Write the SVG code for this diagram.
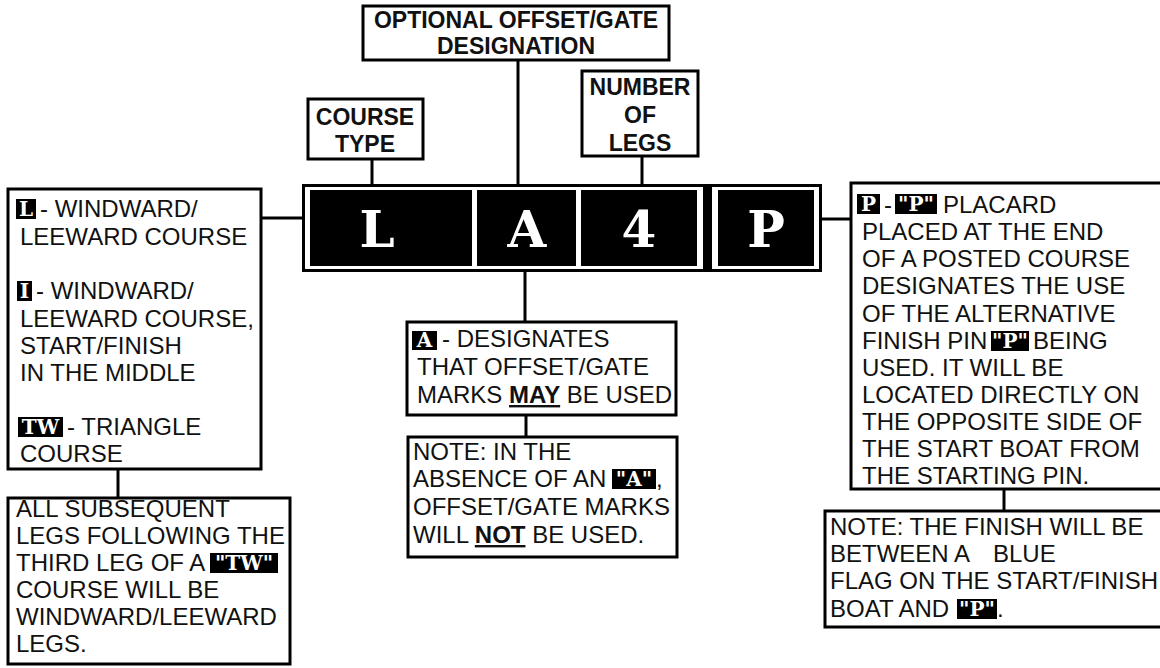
<svg xmlns="http://www.w3.org/2000/svg" width="1160" height="668" viewBox="0 0 1160 668">
<style>
.box{fill:#fff;stroke:#000;stroke-width:3}
.con{stroke:#000;stroke-width:3;fill:none}
.t{font-family:"Liberation Sans",Arial,sans-serif;font-size:24px;fill:#111}
.hb{font-family:"Liberation Sans",Arial,sans-serif;font-size:23px;font-weight:bold;fill:#111;text-anchor:middle}
.b{font-weight:bold;text-decoration:underline}
.big{font-family:"DejaVu Serif",serif;font-weight:bold;font-size:50px;fill:#fff;text-anchor:middle}
.bt{font-family:"DejaVu Serif",serif;font-weight:bold;font-size:20px;fill:#fff;text-anchor:middle}
.bg{fill:#000}
</style>
<rect width="1160" height="668" fill="#fff"/>
<g id="connectors">
<line class="con" x1="518" y1="60" x2="518" y2="184"/>
<line class="con" x1="372" y1="159" x2="372" y2="184"/>
<line class="con" x1="642" y1="156" x2="642" y2="184"/>
<line class="con" x1="261" y1="218" x2="302" y2="218"/>
<line class="con" x1="822" y1="219" x2="851" y2="219"/>
<line class="con" x1="118" y1="469" x2="118" y2="498"/>
<line class="con" x1="525" y1="272" x2="525" y2="322"/>
<line class="con" x1="526" y1="415" x2="526" y2="437"/>
<line class="con" x1="1004" y1="489" x2="1004" y2="511"/>
</g>
<g id="gate">
<rect class="box" x="363" y="6" width="306" height="54"/>
<text class="hb" x="516" y="28">OPTIONAL OFFSET/GATE</text>
<text class="hb" x="516" y="54">DESIGNATION</text>
</g>
<g id="course-type">
<rect class="box" x="308" y="99" width="115" height="60"/>
<text class="hb" x="365" y="125">COURSE</text>
<text class="hb" x="365" y="152">TYPE</text>
</g>
<g id="legs">
<rect class="box" x="582" y="71" width="116" height="85"/>
<text class="hb" x="640" y="95">NUMBER</text>
<text class="hb" x="640" y="123">OF</text>
<text class="hb" x="640" y="151">LEGS</text>
</g>
<g id="placard">
<rect x="302" y="184" width="520" height="88" fill="#000"/>
<rect x="305" y="187" width="514" height="82" fill="#fff"/>
<rect class="bg" x="310" y="190" width="162" height="76"/>
<rect class="bg" x="477" y="190" width="99" height="76"/>
<rect class="bg" x="581" y="190" width="116" height="76"/>
<rect class="bg" x="703" y="184" width="9" height="88"/>
<rect class="bg" x="718" y="190" width="96" height="76"/>
<text class="big" x="377" y="247">L</text>
<text class="big" x="527" y="247">A</text>
<text class="big" x="639" y="247">4</text>
<text class="big" x="766" y="247">P</text>
</g>
<g id="course-types">
<rect class="box" x="8" y="189" width="253" height="280"/>
<rect class="bg" x="16" y="199" width="20" height="20"/>
<text class="bt" x="26" y="216">L</text>
<text class="t" x="40" y="217">- WINDWARD/</text>
<text class="t" x="20" y="245">LEEWARD COURSE</text>
<rect class="bg" x="17" y="281" width="15" height="20"/>
<text class="bt" x="24.5" y="298">I</text>
<text class="t" x="36" y="299">- WINDWARD/</text>
<text class="t" x="20" y="327">LEEWARD COURSE,</text>
<text class="t" x="20" y="354">START/FINISH</text>
<text class="t" x="20" y="381">IN THE MIDDLE</text>
<rect class="bg" x="18" y="417" width="45" height="20"/>
<text class="bt" x="40.5" y="434">TW</text>
<text class="t" x="67" y="435">- TRIANGLE</text>
<text class="t" x="20" y="462">COURSE</text>
</g>
<g id="tw-note">
<rect class="box" x="8" y="498" width="282" height="166"/>
<text class="t" x="16" y="517">ALL SUBSEQUENT</text>
<text class="t" x="16" y="544">LEGS FOLLOWING THE</text>
<text class="t" x="16" y="571">THIRD LEG OF A</text>
<rect class="bg" x="210" y="553" width="68" height="20"/>
<text class="bt" x="244" y="570">"TW"</text>
<text class="t" x="16" y="598">COURSE WILL BE</text>
<text class="t" x="16" y="625">WINDWARD/LEEWARD</text>
<text class="t" x="16" y="652">LEGS.</text>
</g>
<g id="offset-desc">
<rect class="box" x="407" y="322" width="269" height="93"/>
<rect class="bg" x="412" y="331" width="25" height="19"/>
<text class="bt" x="424.5" y="347">A</text>
<text class="t" x="442" y="347">- DESIGNATES</text>
<text class="t" x="417" y="375">THAT OFFSET/GATE</text>
<text class="t" x="417" y="403">MARKS <tspan class="b">MAY</tspan> BE USED</text>
</g>
<g id="offset-note">
<rect class="box" x="408" y="437" width="269" height="120"/>
<text class="t" x="413" y="460">NOTE: IN THE</text>
<text class="t" x="413" y="487">ABSENCE OF AN</text>
<rect class="bg" x="612" y="469" width="44" height="20"/>
<text class="bt" x="634" y="486">"A"</text>
<text class="t" x="656" y="487">,</text>
<text class="t" x="413" y="515">OFFSET/GATE MARKS</text>
<text class="t" x="413" y="543">WILL <tspan class="b">NOT</tspan> BE USED.</text>
</g>
<g id="finish-pin">
<rect class="box" x="851" y="183" width="320" height="306"/>
<rect class="bg" x="857" y="194" width="23" height="20"/>
<text class="bt" x="868.5" y="211">P</text>
<text class="t" x="884" y="213">-</text>
<rect class="bg" x="895" y="194" width="42" height="20"/>
<text class="bt" x="916" y="211">"P"</text>
<text class="t" x="943" y="213">PLACARD</text>
<text class="t" x="862" y="240">PLACED  AT THE END</text>
<text class="t" x="862" y="267">OF A  POSTED COURSE</text>
<text class="t" x="862" y="294">DESIGNATES THE USE</text>
<text class="t" x="862" y="322">OF THE ALTERNATIVE</text>
<text class="t" x="862" y="349">FINISH PIN</text>
<rect class="bg" x="991" y="331" width="38" height="20"/>
<text class="bt" x="1010" y="348">"P"</text>
<text class="t" x="1033" y="349">BEING</text>
<text class="t" x="862" y="376">USED. IT WILL BE</text>
<text class="t" x="862" y="403">LOCATED DIRECTLY ON</text>
<text class="t" x="862" y="430">THE OPPOSITE SIDE OF</text>
<text class="t" x="862" y="457">THE START BOAT FROM</text>
<text class="t" x="862" y="484">THE STARTING PIN.</text>
</g>
<g id="finish-note">
<rect class="box" x="825" y="511" width="346" height="116"/>
<text class="t" x="830" y="535">NOTE: THE FINISH WILL BE</text>
<text class="t" x="830" y="562">BETWEEN A</text>
<text class="t" x="993" y="562">BLUE</text>
<text class="t" x="830" y="589">FLAG ON THE START/FINISH</text>
<text class="t" x="830" y="617">BOAT AND</text>
<rect class="bg" x="957" y="599" width="40" height="20"/>
<text class="bt" x="977" y="616">"P"</text>
<text class="t" x="997" y="617">.</text>
</g>
</svg>
